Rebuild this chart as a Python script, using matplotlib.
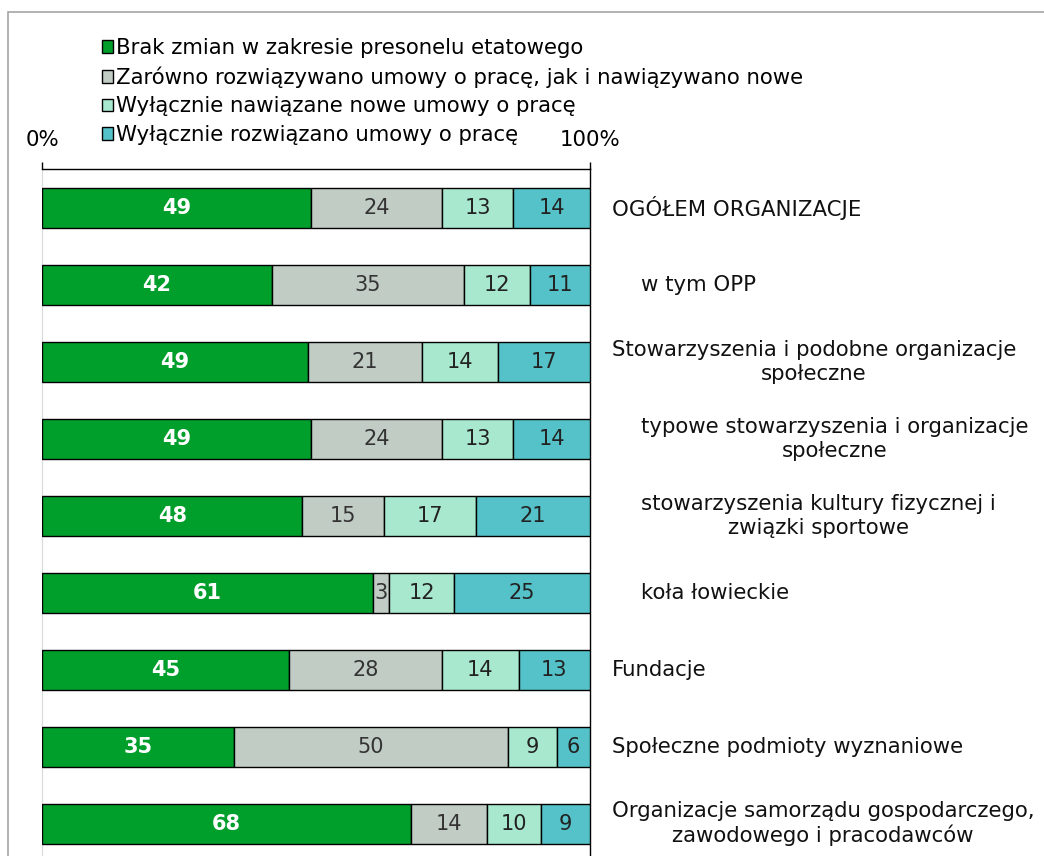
import numpy as np
import matplotlib
matplotlib.use("Agg")
import matplotlib.pyplot as plt
from matplotlib.patches import Rectangle

# data (percent of organizations)
categories = [
    "OGÓŁEM ORGANIZACJE",
    "w tym OPP",
    "Stowarzyszenia i podobne organizacje\nspołeczne",
    "typowe stowarzyszenia i organizacje\nspołeczne",
    "stowarzyszenia kultury fizycznej i\nzwiązki sportowe",
    "koła łowieckie",
    "Fundacje",
    "Społeczne podmioty wyznaniowe",
    "Organizacje samorządu gospodarczego,\nzawodowego i pracodawców",
]
indented = [False, True, False, True, True, True, False, False, False]

no_change = [49, 42, 49, 49, 48, 61, 45, 35, 68]
both = [24, 35, 21, 24, 15, 3, 28, 50, 14]
only_new = [13, 12, 14, 13, 17, 12, 14, 9, 10]
only_ended = [14, 11, 17, 14, 21, 25, 13, 6, 9]

series_names = [
    "Brak zmian w zakresie presonelu etatowego",
    "Zarówno rozwiązywano umowy o pracę, jak i nawiązywano nowe",
    "Wyłącznie nawiązane nowe umowy o pracę",
    "Wyłącznie rozwiązano umowy o pracę",
]
colors = ["#009E2B", "#C0CCC4", "#A8E8CE", "#54C2C8"]
text_colors = ["white", "#333333", "#222222", "#222222"]

plt.rcParams["font.family"] = ["DejaVu Sans"]
FS = 15.3

fig = plt.figure(figsize=(10.44, 8.56), dpi=100)
ax = fig.add_axes([42 / 1044, 0, 548 / 1044, 1 - 169 / 856])

data = np.array([no_change, both, only_new, only_ended], dtype=float)
totals = data.sum(axis=0)
shares = data / totals * 100
y = np.arange(len(categories))

left = np.zeros(len(categories))
for i in range(4):
    bars = ax.barh(y, shares[i], left=left, height=0.52, color=colors[i],
                   edgecolor="black", linewidth=1.0, label=series_names[i], zorder=3)
    for j, b in enumerate(bars):
        cx = left[j] + shares[i][j] / 2
        ax.text(cx, y[j], f"{int(data[i][j])}", ha="center", va="center",
                color=text_colors[i], fontsize=15,
                fontweight="bold" if i == 0 else "normal", zorder=4)
    left += shares[i]

for j, cat in enumerate(categories):
    xpos = 109.3 if indented[j] else 104.0
    ax.text(xpos, y[j], cat, ha="left", va="center", multialignment="center",
            fontsize=FS, color="#111111", clip_on=False)

ax.set_xlim(0, 100)
ax.set_ylim(8.416, -0.506)
ax.set_yticks([])
ax.xaxis.tick_top()
ax.set_xticks([0, 100])
ax.set_xticklabels(["0%", "100%"], fontsize=FS)
ax.tick_params(axis="x", direction="out", length=5, width=1.0, pad=9, color="black")
ax.spines["top"].set_linewidth(1.0)
ax.spines["right"].set_linewidth(1.0)
ax.spines["left"].set_color("#D9D9D9")
ax.spines["bottom"].set_visible(False)

fig.legend(loc="upper left", bbox_to_anchor=(102 / 1044, 1 - 38 / 856),
           frameon=False, fontsize=FS, handlelength=0.5, handleheight=0.5,
           handletextpad=0.15, labelspacing=0.4, borderpad=0, borderaxespad=0)

# outer frame of the original figure
fig.patches.append(Rectangle((8 / 1044, -0.1), 1.2, 1 - 12 / 856 + 0.1,
                             transform=fig.transFigure, fill=False,
                             edgecolor="#A6A6A6", linewidth=1.2))

fig.savefig("out.png", dpi=100)
